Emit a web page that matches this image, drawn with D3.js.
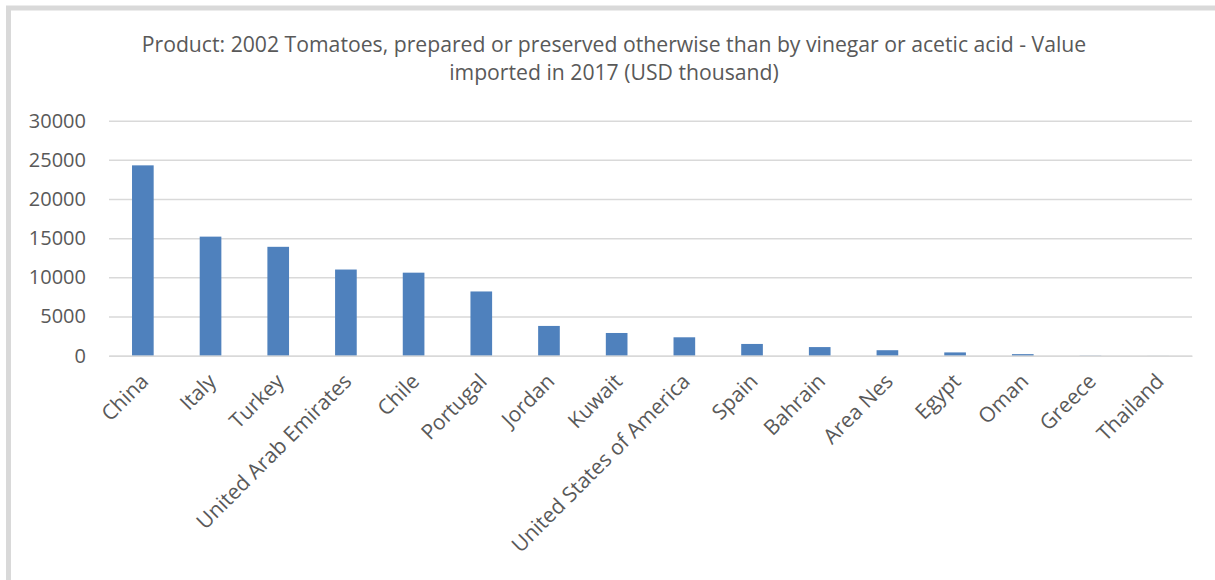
<!DOCTYPE html>
<html>
<head>
<meta charset="utf-8">
<script src="https://cdn.jsdelivr.net/npm/d3@7"></script>
<style>
  html, body { margin: 0; padding: 0; background: #fff; }
  svg { display: block; }
  text { font-family: "Open Sans", "Noto Sans", sans-serif; fill: #595959; }
</style>
</head>
<body>
<svg id="chart" width="1215" height="580"></svg>
<script>
// Import values by partner country, USD thousand
const countries = ["China", "Italy", "Turkey", "United Arab Emirates", "Chile", "Portugal",
  "Jordan", "Kuwait", "United States of America", "Spain", "Bahrain", "Area Nes",
  "Egypt", "Oman", "Greece", "Thailand"];
const importValues = [24300, 15200, 13900, 11000, 10600, 8200,
  3800, 2900, 2350, 1500, 1100, 700,
  420, 200, 25, 8];
const yTicks = [0, 5000, 10000, 15000, 20000, 25000, 30000];
const titleLines = [
  "Product: 2002 Tomatoes, prepared or preserved otherwise than by vinegar or acetic acid - Value",
  "imported in 2017 (USD thousand)"
];

const svg = d3.select("#chart");
const labelFont = "'Open Sans', 'Noto Sans', sans-serif";

// outer chart frame (runs past the right and bottom edges)
svg.append("rect")
  .attr("x", 8.5).attr("y", 8)
  .attr("width", 1300).attr("height", 700)
  .attr("fill", "#fff")
  .attr("stroke", "#d9d9d9")
  .attr("stroke-width", 5);

const x = d3.scaleBand()
  .domain(countries)
  .range([109, 1192])
  .paddingInner(0.68)
  .paddingOuter(0.34);

const y = d3.scaleLinear()
  .domain([0, 30000])
  .range([355.7, 120.7]);

// title
svg.append("g").selectAll("text")
  .data(titleLines)
  .join("text")
  .attr("x", 614)
  .attr("y", (d, i) => 52 + i * 28)
  .attr("text-anchor", "middle")
  .style("font-size", "21.2px")
  .text(d => d);

// gridlines + y labels
const yAxis = d3.axisLeft(y)
  .tickValues(yTicks)
  .tickSize(-(1192 - 109))
  .tickPadding(23)
  .tickFormat(d3.format("d"));

const gy = svg.append("g")
  .attr("transform", "translate(109,0)")
  .call(yAxis);
gy.select(".domain").remove();
gy.selectAll(".tick line")
  .attr("stroke", "#d9d9d9")
  .attr("stroke-width", 1.5);
gy.selectAll(".tick text")
  .style("font-size", "20px")
  .style("font-family", labelFont)
  .attr("fill", "#595959");

// bars
svg.append("g").selectAll("rect")
  .data(countries.map((c, i) => ({ c, v: importValues[i] })))
  .join("rect")
  .attr("x", d => x(d.c))
  .attr("width", x.bandwidth())
  .attr("y", d => y(d.v))
  .attr("height", d => y(0) - y(d.v))
  .attr("fill", "#4f81bd");

// category labels, rotated
const xAxis = d3.axisBottom(x).tickSize(0).tickPadding(0);
const gx = svg.append("g")
  .attr("transform", `translate(0,${y(0)})`)
  .call(xAxis);
gx.select(".domain")
  .attr("stroke", "#d9d9d9")
  .attr("stroke-width", 1.5);
gx.selectAll(".tick text")
  .style("font-size", "21px")
  .style("font-family", labelFont)
  .attr("fill", "#595959")
  .attr("text-anchor", "end")
  .attr("dy", "0")
  .attr("transform", "translate(7,27) rotate(-45)");
</script>
</body>
</html>
